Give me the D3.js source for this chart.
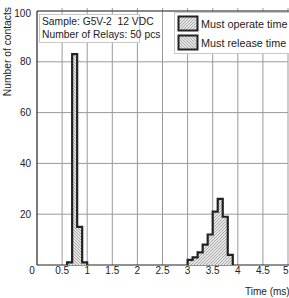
<!DOCTYPE html>
<html><head><meta charset="utf-8">
<script src="https://cdn.jsdelivr.net/npm/d3@7"></script>
<style>
html,body{margin:0;padding:0;background:#fff;overflow:hidden;}
svg{display:block;font-family:"Liberation Sans",Arial,sans-serif;}
text{white-space:pre;}
</style></head>
<body>
<svg id="chart" width="289" height="298"></svg>
<script>
// ---- data ----
const binWidth = 0.1;
const releaseStarts = [0.6, 0.7, 0.8, 0.9];
const releaseCounts = [1, 83, 15, 1];
const operateStarts = [3.0, 3.1, 3.2, 3.3, 3.4, 3.5, 3.6, 3.7, 3.8];
const operateCounts = [2, 3, 5, 8, 12, 21, 26, 19, 4];
const xTicks = [0, 0.5, 1, 1.5, 2, 2.5, 3, 3.5, 4, 4.5, 5];
const xTickLabels = ["0", "0.5", "1", "1.5", "2", "2.5", "3", "3.5", "4", "4.5", "5"];
const yTicks = [20, 40, 60, 80, 100];
const yTickLabels = ["20", "40", "60", "80", "100"];
const infoLines = ["Sample: G5V-2  12 VDC", "Number of Relays: 50 pcs"];
const legendLabels = ["Must operate time", "Must release time"];
const xTitle = "Time (ms)";
const yTitle = "Number of contacts";

// ---- setup ----
const svg = d3.select("#chart");
const x = d3.scaleLinear().domain([0, 5]).range([37, 288]);
const y = d3.scaleLinear().domain([0, 100]).range([265, 11]);

const defs = svg.append("defs");
function hatch(id, dir) {
  const p = defs.append("pattern").attr("id", id).attr("patternUnits", "userSpaceOnUse")
    .attr("width", 3).attr("height", 3);
  p.append("rect").attr("width", 3).attr("height", 3).attr("fill", "#e6e6e6");
  if (dir > 0) {
    p.append("path").attr("d", "M-1,1 L1,-1 M0,3 L3,0 M2,4 L4,2").attr("stroke", "#999").attr("stroke-width", 0.8);
  } else {
    p.append("path").attr("d", "M-1,2 L1,4 M0,0 L3,3 M2,-1 L4,1").attr("stroke", "#999").attr("stroke-width", 0.8);
  }
}
hatch("hOp", 1);
hatch("hRel", -1);

// grid
const g = svg.append("g");
g.selectAll("line.vg").data(xTicks.filter(d => d > 0)).join("line")
  .attr("x1", d => x(d)).attr("x2", d => x(d)).attr("y1", y(100) - 3).attr("y2", y(0))
  .attr("stroke", "#9a9a9a").attr("stroke-width", 1);
g.selectAll("line.hg").data(yTicks).join("line")
  .attr("x1", x(0)).attr("x2", x(5)).attr("y1", d => y(d)).attr("y2", d => y(d))
  .attr("stroke", "#9a9a9a").attr("stroke-width", 1);

// frame
svg.append("line").attr("x1", x(0)).attr("x2", x(5) + 1).attr("y1", y(100)).attr("y2", y(100)).attr("stroke", "#444").attr("stroke-width", 1);
svg.append("line").attr("x1", x(0)).attr("x2", x(0)).attr("y1", y(100)).attr("y2", y(0)).attr("stroke", "#222").attr("stroke-width", 1.2);
svg.append("line").attr("x1", x(0)).attr("x2", x(5) + 1).attr("y1", y(0)).attr("y2", y(0)).attr("stroke", "#222").attr("stroke-width", 1.2);

// y ticks
svg.selectAll("text.yl").data(yTicks).join("text")
  .attr("x", 31).attr("y", (d) => y(d) + (d === 100 ? 5.5 : 3.5)).attr("text-anchor", "end")
  .attr("font-size", 10).attr("fill", "#222").text((d, i) => yTickLabels[i]);
// x ticks
svg.selectAll("text.xl").data(xTicks).join("text")
  .attr("x", d => d === 0 ? x(d) - 5 : (d === 5 ? 288.5 : x(d)))
  .attr("y", 274).attr("text-anchor", d => d === 5 ? "end" : "middle")
  .attr("font-size", 10).attr("fill", "#222").text((d, i) => xTickLabels[i]);

// histograms
function stepPath(starts, counts) {
  let pts = [[x(starts[0]), y(0)]];
  starts.forEach((s, i) => {
    pts.push([x(s), y(counts[i])]);
    pts.push([x(s + binWidth), y(counts[i])]);
  });
  pts.push([x(starts[starts.length - 1] + binWidth), y(0)]);
  return d3.line()(pts);
}
svg.append("path").attr("d", stepPath(releaseStarts, releaseCounts))
  .attr("fill", "url(#hRel)").attr("stroke", "#222").attr("stroke-width", 2.2).attr("stroke-linejoin", "miter");
svg.append("path").attr("d", stepPath(operateStarts, operateCounts))
  .attr("fill", "url(#hOp)").attr("stroke", "#222").attr("stroke-width", 2.2).attr("stroke-linejoin", "miter");

// info box
svg.append("rect").attr("x", 39.5).attr("y", 14.5).attr("width", 100).attr("height", 28)
  .attr("fill", "#fff").attr("stroke", "#c8c8c8");
svg.selectAll("text.info").data(infoLines).join("text")
  .attr("x", 42).attr("y", (d, i) => 25 + i * 13).attr("font-size", 10.3).attr("fill", "#222").text(d => d);

// legend
svg.append("rect").attr("x", 174.5).attr("y", 12.5).attr("width", 120).attr("height", 41)
  .attr("fill", "#fff").attr("stroke", "#c8c8c8");
const lg = svg.selectAll("g.leg").data(legendLabels).join("g")
  .attr("transform", (d, i) => `translate(0,${i * 19})`);
lg.append("rect").attr("x", 178.5).attr("y", 16.5).attr("width", 19).attr("height", 14)
  .attr("fill", (d, i) => i === 0 ? "url(#hOp)" : "url(#hRel)").attr("stroke", "#222").attr("stroke-width", 2);
lg.append("text").attr("x", 201).attr("y", 27.5).attr("font-size", 10.8).attr("fill", "#222").text(d => d);

// axis titles
svg.append("text").attr("x", 245).attr("y", 295).attr("font-size", 10).attr("fill", "#222").text(xTitle);
svg.append("text").attr("transform", "translate(11,7) rotate(-90)").attr("text-anchor", "end")
  .attr("font-size", 10.3).attr("fill", "#222").text(yTitle);
</script>
</body></html>
